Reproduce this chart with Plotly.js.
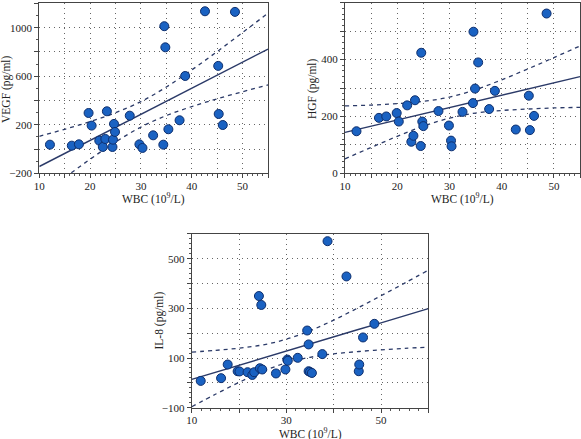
<!DOCTYPE html>
<html>
<head>
<meta charset="utf-8">
<script src="https://cdn.plot.ly/plotly-3.0.1.min.js"></script>
<style>
html,body{margin:0;padding:0;background:#fff;}
#chart{width:581px;height:439px;}
</style>
</head>
<body>
<div id="chart"></div>
<script>
// ---- data ----
const WBC_VEGF = [12.1,16.4,17.8,19.7,20.3,21.8,22.5,23.0,23.3,24.4,24.5,24.7,24.9,27.8,29.7,30.3,32.4,34.4,34.6,34.8,35.4,37.6,38.7,42.6,45.2,45.3,46.1,48.5];
const VEGF = [36,28,39,297,193,69,17,83,311,17,77,207,141,275,39,9,113,36,1012,838,163,237,602,1135,685,289,198,1130];

const WBC_HGF = [12.2,16.5,17.9,19.9,20.3,21.9,22.7,23.1,23.4,24.6,24.5,24.8,25.0,27.9,29.9,30.3,30.4,32.5,34.5,34.6,34.9,35.5,37.6,38.7,42.7,45.2,45.4,46.2,48.6];
const HGF = [148,195,200,212,182,239,111,132,257,424,96,182,166,219,168,115,95,216,247,498,298,390,226,290,154,273,152,202,562];

const WBC_IL8 = [11.9,16.2,17.6,19.7,20.1,21.8,22.8,23.2,24.2,24.4,24.7,24.9,27.8,29.8,30.2,30.3,32.4,34.4,34.7,34.7,35.0,35.4,37.6,38.7,42.7,45.3,45.4,46.2,48.6];
const IL8 = [8,19,74,47,46,43,32,43,350,59,314,54,38,54,94,89,101,211,155,47,44,40,116,571,429,47,74,183,238];

// regression line and 95% band, read at these WBC values
const BAND_X = [10,15,20,25,30,35,40,45,50,55];
const VEGF_FIT = [-144,-37,71,179,286,394,501,609,716,824];
const VEGF_UP  = [105,163,226,299,391,511,652,803,960,1119];
const VEGF_LO  = [-393,-236,-84,58,181,276,350,414,472,528];

const HGF_FIT = [144,166,188,209,231,253,275,297,318,340];
const HGF_UP  = [237,240,245,253,268,294,329,367,407,448];
const HGF_LO  = [51,91,130,166,194,212,221,226,230,232];

const BAND_X3 = [10,15,20,25,30,35,40,45,50,55,60];
const IL8_FIT = [14,43,71,100,128,157,185,214,242,271,299];
const IL8_UP  = [124,131,140,153,176,210,253,301,351,402,454];
const IL8_LO  = [-96,-46,2,46,81,103,117,126,133,139,144];

const X_TICKS_A = [10,15,20,25,30,35,40,45,50,55];
const X_TEXT_A  = ['10','','20','','30','','40','','50',''];
const Y1_TICKS = [-200,0,200,400,600,800,1000,1200];
const Y1_TEXT  = ['\u2212200','','200','','600','','1000',''];
const Y2_TICKS = [0,100,200,300,400,500,600];
const Y2_TEXT  = ['0','','200','','400','','600'];
const X3_TICKS = [10,20,30,40,50,60];
const X3_TEXT  = ['10','','30','','50',''];
const Y3_TICKS = [-100,0,100,200,300,400,500,600];
const Y3_TEXT  = ['\u2212100','','100','','300','','500',''];

const X_TITLE = 'WBC (10<sup>9</sup>/L)';
const Y_TITLES = ['VEGF (pg/ml)', 'HGF (pg/ml)', 'IL-8 (pg/ml)'];

// ---- styling ----
const FONT = 'Liberation Serif, Times New Roman, serif';
const MARK = {size:9, color:'#1a62c2', line:{color:'#0e2f6e', width:1}};
const FITLINE = {color:'#2b3a68', width:1.4};
const DASH = {color:'#2b3a68', width:1.3, dash:'4px,4px'};

function panel(xs, ys, bx, fit, up, lo, xa, ya){
  const ax = {xaxis:xa, yaxis:ya};
  return [
    Object.assign({x:bx, y:up, mode:'lines', line:Object.assign({shape:'spline'},DASH), hoverinfo:'skip'}, ax),
    Object.assign({x:bx, y:lo, mode:'lines', line:Object.assign({shape:'spline'},DASH), hoverinfo:'skip'}, ax),
    Object.assign({x:bx, y:fit, mode:'lines', line:FITLINE, hoverinfo:'skip'}, ax),
    Object.assign({x:xs, y:ys, mode:'markers', marker:MARK, cliponaxis:false}, ax)
  ];
}

const data = [].concat(
  panel(WBC_VEGF, VEGF, BAND_X, VEGF_FIT, VEGF_UP, VEGF_LO, 'x', 'y'),
  panel(WBC_HGF, HGF, BAND_X, HGF_FIT, HGF_UP, HGF_LO, 'x2', 'y2'),
  panel(WBC_IL8, IL8, BAND_X3, IL8_FIT, IL8_UP, IL8_LO, 'x3', 'y3')
);

function common(){
  return {
    tickmode:'array',
    ticks:'outside', ticklen:4, tickwidth:1, tickcolor:'#444',
    showline:true, mirror:true, linecolor:'#444', linewidth:1,
    showgrid:true, gridcolor:'#666', griddash:'1px,4px', gridwidth:1,
    zeroline:false, tickfont:{family:FONT, size:11, color:'#222'},
    automargin:false, fixedrange:true
  };
}
function xax(domain, range, tv, tt, anchor, minorD){
  return Object.assign(common(), {
    domain:domain, range:range, anchor:anchor, tickvals:tv, ticktext:tt,
    ticklabelstandoff:-2,
    minor:{dtick:minorD, tick0:10, ticks:'outside', ticklen:2, tickcolor:'#555', showgrid:false}
  });
}
function yax(domain, range, tv, tt, anchor, minorD){
  return Object.assign(common(), {
    domain:domain, range:range, anchor:anchor, tickvals:tv, ticktext:tt,
    minor:{dtick:minorD, tick0:0, ticks:'outside', ticklen:2, tickcolor:'#555', showgrid:false}
  });
}

const TF = {family:FONT, size:11.5, color:'#222'};
function xt(x, y){ return {text:X_TITLE, xref:'paper', yref:'paper', x:x, y:y, xanchor:'center', yanchor:'middle', showarrow:false, font:TF}; }
function yt(t, x, y){ return {text:t, xref:'paper', yref:'paper', x:x, y:y, xanchor:'center', yanchor:'middle', textangle:-90, showarrow:false, font:TF}; }

const layout = {
  width:581, height:439,
  margin:{l:0, r:0, t:0, b:0},
  paper_bgcolor:'#ffffff', plot_bgcolor:'#ffffff',
  showlegend:false,
  font:{family:FONT, size:11, color:'#222'},
  xaxis: xax([0.0676,0.4613], [10,55], X_TICKS_A, X_TEXT_A, 'y', 1),
  yaxis: yax([0.6052,0.9923], [-200,1200], Y1_TICKS, Y1_TEXT, 'x', 100),
  xaxis2: xax([0.5938,0.9983], [10,55], X_TICKS_A, X_TEXT_A, 'y2', 1),
  yaxis2: yax([0.6052,0.9938], [0,600], Y2_TICKS, Y2_TEXT, 'x2', 20),
  xaxis3: xax([0.3300,0.7372], [10,60], X3_TICKS, X3_TEXT, 'y3', 2),
  yaxis3: yax([0.0713,0.4670], [-100,600], Y3_TICKS, Y3_TEXT, 'x3', 20),
  annotations:[
    xt(153.7/581, 1-198.5/439),
    xt(462.5/581, 1-198.5/439),
    xt(310/581, 1-433.5/439),
    yt(Y_TITLES[0], 6/581, 1-89/439),
    yt(Y_TITLES[1], 312/581, 1-89/439),
    yt(Y_TITLES[2], 158.5/581, 1-321/439)
  ]
};

Plotly.newPlot('chart', data, layout, {staticPlot:true, displayModeBar:false});
</script>
</body>
</html>
